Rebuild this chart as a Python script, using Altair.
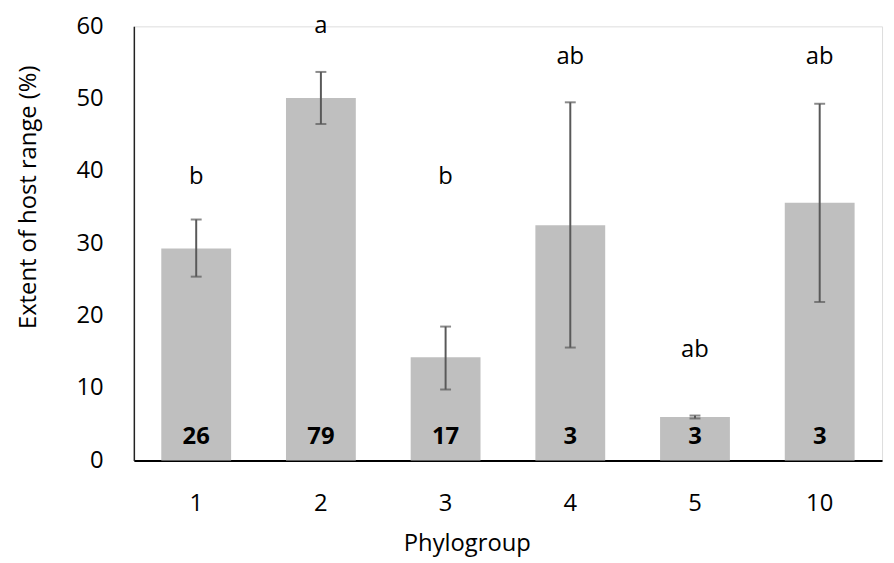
import altair as alt
import pandas as pd

groups = ["1", "2", "3", "4", "5", "10"]
means = [29.3, 50.1, 14.25, 32.5, 6.0, 35.6]
err_hi = [33.3, 53.7, 18.5, 49.5, 6.2, 49.3]
err_lo = [25.4, 46.5, 9.8, 15.6, 5.8, 21.9]
letters = ["b", "a", "b", "ab", "ab", "ab"]
letter_y = [39.2, 60.0, 39.2, 55.8, 15.3, 55.8]
counts = ["26", "79", "17", "3", "3", "3"]
count_y = [3.2] * 6

df = pd.DataFrame({
    "group": groups, "mean": means, "hi": err_hi, "lo": err_lo,
    "letter": letters, "ly": letter_y, "n": counts, "ny": count_y,
})

FONT = "Open Sans"
FS = 24

x = alt.X("group:N", sort=groups,
          scale=alt.Scale(paddingInner=0.44, paddingOuter=0.22),
          axis=alt.Axis(title="Phylogroup", labelAngle=0, ticks=False,
                        labelPadding=32, labelFontSize=FS, labelFont=FONT,
                        labelColor="black", domainColor="black", domainWidth=2,
                        titleFontSize=FS, titleFont=FONT, titleFontWeight="normal",
                        titleColor="black", titleX=336, titleY=84,
                        titleBaseline="middle", titleAnchor="start", titleAlign="center"))

y = alt.Y("mean:Q", scale=alt.Scale(domain=[0, 60], nice=False),
          axis=alt.Axis(title="Extent of host range (%)", values=[0, 10, 20, 30, 40, 50, 60],
                        ticks=False, grid=False, labelPadding=31, labelFontSize=FS,
                        labelFont=FONT, labelColor="black", domainColor="#222222",
                        domainWidth=1.5, titleFontSize=FS, titleFont=FONT,
                        titleFontWeight="normal", titleColor="black",
                        titleX=-106, titleY=172, titleAngle=-90,
                        titleBaseline="middle", titleAlign="center", titleAnchor="start"))

base = alt.Chart(df)

bars = base.mark_bar(color="#BFBFBF").encode(x=x, y=y)

rules = base.mark_rule(color="#595959", strokeWidth=2).encode(
    x=alt.X("group:N", sort=groups), y=alt.Y("lo:Q"), y2="hi:Q")
cap_hi = base.mark_tick(color="#595959", size=11, thickness=2).encode(
    x=alt.X("group:N", sort=groups), y=alt.Y("hi:Q"))
cap_lo = base.mark_tick(color="#595959", size=11, thickness=2).encode(
    x=alt.X("group:N", sort=groups), y=alt.Y("lo:Q"))

letter_text = base.mark_text(font=FONT, fontSize=FS, color="black",
                             baseline="middle", align="center").encode(
    x=alt.X("group:N", sort=groups), y=alt.Y("ly:Q"), text="letter:N")

count_text = base.mark_text(font=FONT, fontSize=FS, fontWeight="bold", color="black",
                            baseline="middle", align="center").encode(
    x=alt.X("group:N", sort=groups), y=alt.Y("ny:Q"), text="n:N")

chart = alt.layer(bars, rules, cap_hi, cap_lo, letter_text, count_text).properties(
    width=755, height=438,
    autosize=alt.AutoSizeParams(type="none"),
    padding={"left": 127, "top": 16, "right": 4, "bottom": 100},
).configure_view(stroke=None).configure(background="white")

chart.save("out.html", embed_options={"renderer": "svg", "actions": False})
